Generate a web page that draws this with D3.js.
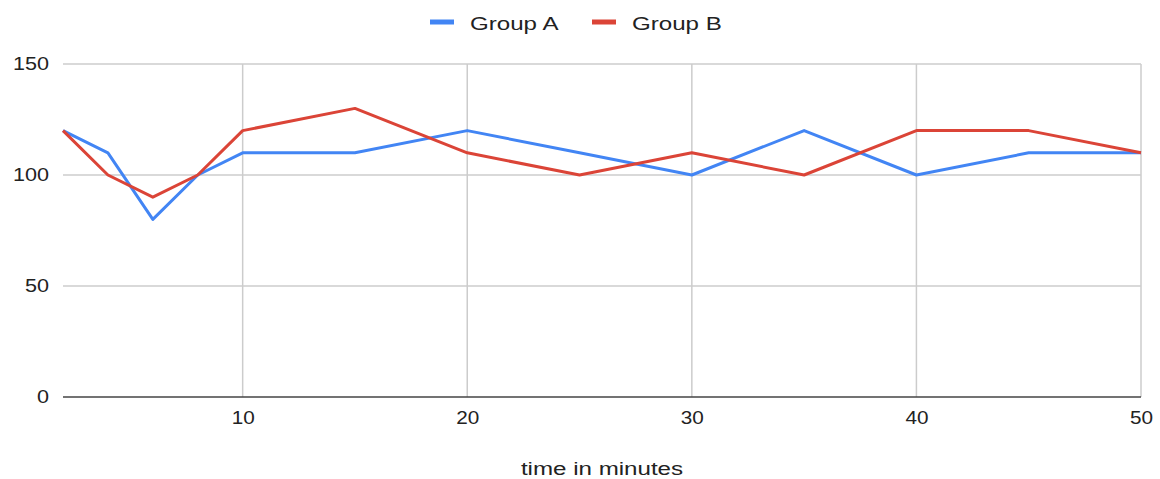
<!DOCTYPE html>
<html>
<head>
<meta charset="utf-8">
<script src="https://cdn.jsdelivr.net/npm/d3@7"></script>
<style>
  html, body { margin: 0; padding: 0; background: #fff; }
  svg { display: block; font-family: "Liberation Sans", Arial, sans-serif; }
</style>
</head>
<body>
<svg id="chart" width="1160" height="479"></svg>
<script>
// Measurements over time
const minutes = [2, 4, 6, 8, 10, 15, 20, 25, 30, 35, 40, 45, 50];
const groupA  = [120, 110, 80, 100, 110, 110, 120, 110, 100, 120, 100, 110, 110];
const groupB  = [120, 100, 90, 100, 120, 130, 110, 100, 110, 100, 120, 120, 110];
const seriesNames = ["Group A", "Group B"];
const yTicks = [0, 50, 100, 150];
const xTicks = [10, 20, 30, 40, 50];
const xTitle = "time in minutes";

(function () {
  const colors = ["#4285F4", "#DB4437"];
  const series = [groupA, groupB];
  const textColor = "#222222";

  const svg = d3.select("#chart");
  const plot = { left: 63, right: 1141, top: 64, bottom: 397 };

  const x = d3.scaleLinear().domain([2, 50]).range([plot.left, plot.right]);
  const y = d3.scaleLinear().domain([0, 150]).range([plot.bottom, plot.top]);

  // widen text glyphs horizontally by a given factor
  function widen(sel, factor) {
    sel.each(function () {
      const w = this.getComputedTextLength();
      d3.select(this)
        .attr("textLength", w * factor)
        .attr("lengthAdjust", "spacingAndGlyphs");
    });
  }

  // horizontal gridlines
  svg.append("g")
    .selectAll("line")
    .data(yTicks.filter(d => d !== 0))
    .join("line")
    .attr("x1", plot.left).attr("x2", plot.right)
    .attr("y1", d => y(d)).attr("y2", d => y(d))
    .attr("stroke", "#cccccc").attr("stroke-width", 1.5);

  // vertical gridlines
  svg.append("g")
    .selectAll("line")
    .data(xTicks)
    .join("line")
    .attr("x1", d => x(d)).attr("x2", d => x(d))
    .attr("y1", plot.top).attr("y2", plot.bottom)
    .attr("stroke", "#cccccc").attr("stroke-width", 1.5);

  // baseline
  svg.append("line")
    .attr("x1", plot.left).attr("x2", plot.right)
    .attr("y1", y(0)).attr("y2", y(0))
    .attr("stroke", "#444444").attr("stroke-width", 1.5);

  // y tick labels
  const yAxis = d3.axisLeft(y).tickValues(yTicks).tickSize(0).tickPadding(14);
  const gy = svg.append("g").attr("transform", `translate(${plot.left},0)`).call(yAxis);
  gy.select(".domain").remove();
  gy.selectAll("text")
    .attr("font-size", 18).attr("fill", textColor)
    .attr("font-family", "'Liberation Sans', Arial, sans-serif")
    .call(widen, 1.2);

  // x tick labels
  const xAxis = d3.axisBottom(x).tickValues(xTicks).tickSize(0).tickPadding(0);
  const gx = svg.append("g").attr("transform", `translate(0,${plot.bottom})`).call(xAxis);
  gx.select(".domain").remove();
  gx.selectAll("text")
    .attr("dy", null).attr("y", 27)
    .attr("font-size", 18).attr("fill", textColor)
    .attr("font-family", "'Liberation Sans', Arial, sans-serif")
    .call(widen, 1.15);

  // x axis title
  svg.append("text")
    .attr("x", 602).attr("y", 475)
    .attr("text-anchor", "middle")
    .attr("font-size", 18).attr("fill", textColor)
    .text(xTitle)
    .call(widen, 1.34);

  // data lines
  const line = d3.line()
    .x((d, i) => x(minutes[i]))
    .y(d => y(d));

  series.forEach((vals, k) => {
    svg.append("path")
      .datum(vals)
      .attr("d", line)
      .attr("fill", "none")
      .attr("stroke", colors[k])
      .attr("stroke-width", 3)
      .attr("stroke-linejoin", "round");
  });

  // legend
  const legendItems = [
    { name: seriesNames[0], color: colors[0], x: 430 },
    { name: seriesNames[1], color: colors[1], x: 592 }
  ];
  const lg = svg.append("g");
  legendItems.forEach(it => {
    lg.append("rect")
      .attr("x", it.x).attr("y", 19.5)
      .attr("width", 24).attr("height", 5)
      .attr("fill", it.color);
    lg.append("text")
      .attr("x", it.x + 40).attr("y", 30)
      .attr("font-size", 18).attr("fill", textColor)
      .text(it.name)
      .call(widen, 1.34);
  });
})();
</script>
</body>
</html>
